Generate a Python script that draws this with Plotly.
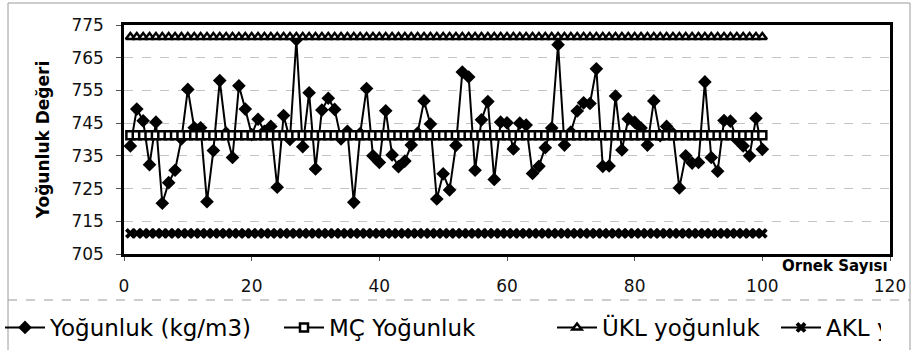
import plotly.graph_objects as go

# ---- data ----
ornek = list(range(1, 101))
yogunluk = [
    738.0, 749.3, 745.7, 732.3, 745.3, 720.5, 726.8, 730.6, 740.2, 755.3,
    743.6, 743.6, 721.0, 736.6, 758.0, 742.0, 734.5, 756.4, 749.3, 741.5,
    746.2, 742.5, 744.0, 725.4, 747.3, 740.0, 770.5, 737.8, 754.3, 731.0,
    749.0, 752.6, 749.2, 740.2, 742.5, 720.8, 741.8, 755.6, 735.0, 733.0,
    748.8, 735.3, 731.7, 733.4, 738.3, 742.0, 751.8, 744.7, 721.8, 729.5,
    724.6, 738.2, 760.6, 759.1, 730.6, 746.0, 751.6, 727.8, 745.3, 745.1,
    737.1, 745.0, 744.4, 729.6, 731.8, 737.5, 743.5, 769.0, 738.3, 742.3,
    748.7, 751.2, 751.0, 761.6, 731.8, 731.9, 753.3, 736.8, 746.3, 745.3,
    743.5, 738.3, 751.8, 741.2, 744.0, 741.8, 725.2, 735.0, 732.8, 733.0,
    757.6, 734.5, 730.3, 745.8, 745.6, 740.0, 738.0, 735.0, 746.5, 737.0,
]
mc_value = 741.3
ukl_value = 771.3
akl_value = 711.3
mc_line = [mc_value] * len(ornek)
ukl_line = [ukl_value] * len(ornek)
akl_line = [akl_value] * len(ornek)

series_names = ["Yoğunluk (kg/m3)", "MÇ Yoğunluk", "ÜKL yoğunluk", "AKL yoğunluk"]
y_ticks = [705, 715, 725, 735, 745, 755, 765, 775]
x_ticks = [0, 20, 40, 60, 80, 100, 120]

FONT = "DejaVu Sans"

fig = go.Figure()
fig.add_trace(go.Scatter(
    x=ornek, y=yogunluk, name=series_names[0], mode="lines+markers",
    line=dict(color="black", width=2),
    marker=dict(symbol="diamond", size=10.5, color="black"),
    legendwidth=224,
))
fig.add_trace(go.Scatter(
    x=ornek, y=mc_line, name=series_names[1], mode="lines+markers",
    line=dict(color="black", width=2),
    marker=dict(symbol="square", size=8, color="white", line=dict(color="black", width=2.5)),
    legendwidth=218,
))
fig.add_trace(go.Scatter(
    x=ornek, y=ukl_line, name=series_names[2], mode="lines+markers",
    line=dict(color="black", width=2),
    marker=dict(symbol="triangle-up", size=8, color="white", line=dict(color="black", width=2.5)),
    legendwidth=169,
))
fig.add_trace(go.Scatter(
    x=ornek, y=akl_line, name=series_names[3], mode="lines+markers",
    line=dict(color="black", width=2),
    marker=dict(symbol="x", size=9.5, color="black"),
    legendwidth=50,
))

W, H = 921, 350
L, R, T, B = 124, 31, 25, 96
pw, ph = W - L - R, H - T - B


def px(xp):
    return (xp - L) / pw


def py(yp):
    return (H - B - yp) / ph


fig.update_layout(
    width=W, height=H,
    margin=dict(l=L, r=R, t=T, b=B, autoexpand=False),
    paper_bgcolor="white", plot_bgcolor="white",
    font=dict(family=FONT, color="black"),
    showlegend=True,
    legend=dict(
        orientation="h", x=px(0), xanchor="left", y=py(306), yanchor="top",
        font=dict(family=FONT, size=23, color="black"),
        itemwidth=40, bgcolor="rgba(0,0,0,0)", traceorder="normal",
    ),
    xaxis=dict(
        range=[0, 120], tickvals=x_ticks, ticktext=[str(v) for v in x_ticks],
        showgrid=False, zeroline=False,
        showline=True, linecolor="black", linewidth=2.5, mirror=True,
        ticks="outside", ticklen=4, tickwidth=1, tickcolor="#555",
        tickfont=dict(family=FONT, size=17, color="#111"),
        ticklabelstandoff=11,
    ),
    yaxis=dict(
        range=[705, 775], tickvals=y_ticks, ticktext=[str(v) for v in y_ticks],
        showgrid=True, gridcolor="#c4c4c4", griddash="dash", gridwidth=1,
        zeroline=False,
        showline=True, linecolor="black", linewidth=2.5, mirror=True,
        ticks="outside", ticklen=5, tickwidth=1, tickcolor="#555",
        tickfont=dict(family=FONT, size=17, color="#111"),
        ticklabelstandoff=9,
        title=dict(text="<b>Yoğunluk Değeri</b>", font=dict(family=FONT, size=17, color="black"),
                   standoff=18),
    ),
    annotations=[
        dict(text="<b>Ornek Sayısı</b>", xref="paper", yref="paper",
             x=1.0, y=py(266), xanchor="right", yanchor="middle", showarrow=False,
             font=dict(family=FONT, size=15, color="black")),
    ],
    shapes=[
        dict(type="line", xref="paper", yref="paper", x0=px(8), x1=px(910), y0=py(3), y1=py(3),
             line=dict(color="#9a9a9a", width=1)),
        dict(type="line", xref="paper", yref="paper", x0=px(8), x1=px(8), y0=py(3), y1=py(350),
             line=dict(color="#9a9a9a", width=1)),
        dict(type="line", xref="paper", yref="paper", x0=px(910), x1=px(910), y0=py(3), y1=py(350),
             line=dict(color="#9a9a9a", width=1)),
        dict(type="line", xref="paper", yref="paper", x0=px(8), x1=px(910), y0=py(300), y1=py(300),
             line=dict(color="#9a9a9a", width=1, dash="dash")),
    ],
)

fig.write_html("out.html")
